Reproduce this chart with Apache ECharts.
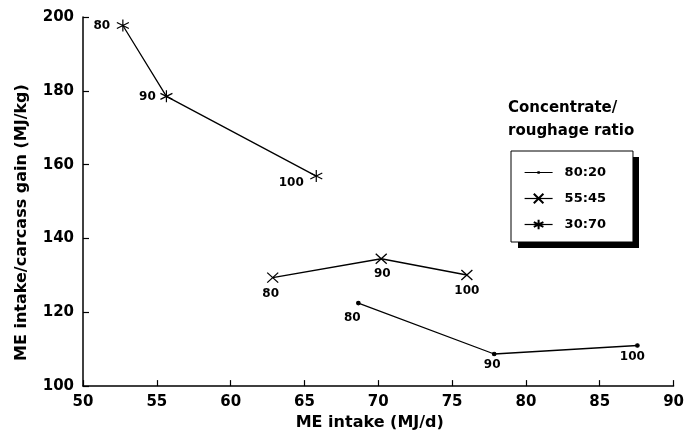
<!DOCTYPE html>
<html>
<head>
<meta charset="utf-8">
<script src="https://cdn.jsdelivr.net/npm/echarts@6/dist/echarts.min.js"></script>
<style>
html,body{margin:0;padding:0;background:#fff;}
#chart{width:687px;height:436px;}
</style>
</head>
<body>
<div id="chart"></div>
<script>
// ---- data ----
var seriesNames = ['80:20', '55:45', '30:70'];
var levelLabels = ['80', '90', '100'];
var meIntake_80_20 = [68.65, 77.85, 87.55];
var ratio_80_20 = [122.5, 108.7, 111.0];
var meIntake_55_45 = [62.85, 70.2, 76.0];
var ratio_55_45 = [129.4, 134.5, 130.1];
var meIntake_30_70 = [52.7, 55.65, 65.8];
var ratio_30_70 = [197.7, 178.5, 156.9];
var xTicks = [50, 55, 60, 65, 70, 75, 80, 85, 90];
var yTicks = [100, 120, 140, 160, 180, 200];

// ---- styling (label placement relative to each point) ----
var labelOffsets = {
  '80:20': [[-6, 15], [-2, 11], [-5, 11]],
  '55:45': [[-2, 16], [1, 15], [0, 16]],
  '30:70': [[-21, 0], [-19, 1], [-25, 7]]
};
var FONT = 'DejaVu Sans';
var symbols = {
  '80:20': 'circle',
  '55:45': 'path://M-1,-0.9 L1,0.9 M-1,0.9 L1,-0.9',
  '30:70': 'path://M0,-1 L0,1 M-0.87,-0.5 L0.87,0.5 M-0.87,0.5 L0.87,-0.5'
};
var symbolSizes = {'80:20': 3.5, '55:45': [11, 10], '30:70': 12};
// legend icon for the dot series: thin line with a tiny dot (corner specks fix the bounding box)
var dotLegendIcon = 'path://M0,0L0.01,0L0,0.01Z M28,12L27.99,12L28,11.99Z M0,5.4L28,5.4L28,6.6L0,6.6Z M12.8,4.8L15.2,4.8L15.2,7.2L12.8,7.2Z';

function build(name, xs, ys) {
  var data = xs.map(function (x, i) {
    return {
      value: [x, ys[i]],
      label: {
        show: true,
        formatter: levelLabels[i],
        position: 'inside',
        offset: labelOffsets[name][i]
      }
    };
  });
  return {
    name: name,
    type: 'line',
    data: data,
    symbol: symbols[name],
    symbolSize: symbolSizes[name],
    showAllSymbol: true,
    lineStyle: {color: '#000', width: 1.3},
    itemStyle: {color: '#000', borderColor: '#000', borderWidth: 1.2},
    label: {color: '#000', fontFamily: FONT, fontWeight: 'bold', fontSize: 12},
    emphasis: {disabled: true},
    z: 3
  };
}

var chart = echarts.init(document.getElementById('chart'), null, {renderer: 'canvas'});
chart.setOption({
  animation: false,
  backgroundColor: '#fff',
  title: {
    text: 'Concentrate/\nroughage ratio',
    left: 503,
    top: 92,
    textStyle: {fontFamily: FONT, fontWeight: 'bold', fontSize: 15, lineHeight: 23, color: '#000'}
  },
  graphic: [{
    type: 'rect',
    left: 518,
    top: 157,
    shape: {width: 121, height: 91},
    style: {fill: '#000'},
    z: 0
  }],
  legend: {
    data: [
      {name: seriesNames[0], icon: dotLegendIcon, itemStyle: {color: '#000', borderWidth: 0, borderColor: 'transparent'}},
      {name: seriesNames[1]},
      {name: seriesNames[2]}
    ],
    orient: 'vertical',
    left: 511,
    top: 151,
    padding: [15, 27, 11, 13],
    itemWidth: 28,
    itemHeight: 12,
    itemGap: 13,
    backgroundColor: '#fff',
    borderColor: '#000',
    borderWidth: 1,
    lineStyle: {width: 1.2},
    textStyle: {fontFamily: FONT, fontWeight: 'bold', fontSize: 13, color: '#000', padding: [0, 0, 0, 7]},
    selectedMode: false,
    z: 5
  },
  grid: {left: 83, right: 9, top: 17, bottom: 43},
  xAxis: {
    type: 'value',
    min: xTicks[0],
    max: xTicks[xTicks.length - 1],
    interval: 5,
    name: 'ME intake (MJ/d)',
    nameLocation: 'middle',
    nameGap: 28,
    nameTextStyle: {fontFamily: FONT, fontWeight: 'bold', fontSize: 16, color: '#000', padding: [0, 17, 0, 0]},
    axisLine: {lineStyle: {color: '#000', width: 1.5}},
    axisTick: {inside: true, length: 6, lineStyle: {color: '#000', width: 1.2}},
    axisLabel: {margin: 9, fontFamily: FONT, fontWeight: 'bold', fontSize: 15, color: '#000'},
    splitLine: {show: false}
  },
  yAxis: {
    type: 'value',
    min: yTicks[0],
    max: yTicks[yTicks.length - 1],
    interval: 20,
    name: 'ME intake/carcass gain (MJ/kg)',
    nameLocation: 'middle',
    nameGap: 53,
    nameTextStyle: {fontFamily: FONT, fontWeight: 'bold', fontSize: 16, color: '#000', padding: [0, 42, 0, 0]},
    axisLine: {show: true, lineStyle: {color: '#000', width: 1.5}},
    axisTick: {show: true, inside: true, length: 6, lineStyle: {color: '#000', width: 1.2}},
    axisLabel: {margin: 9, fontFamily: FONT, fontWeight: 'bold', fontSize: 15, color: '#000'},
    splitLine: {show: false}
  },
  series: [
    build('80:20', meIntake_80_20, ratio_80_20),
    build('55:45', meIntake_55_45, ratio_55_45),
    build('30:70', meIntake_30_70, ratio_30_70)
  ]
});
</script>
</body>
</html>
